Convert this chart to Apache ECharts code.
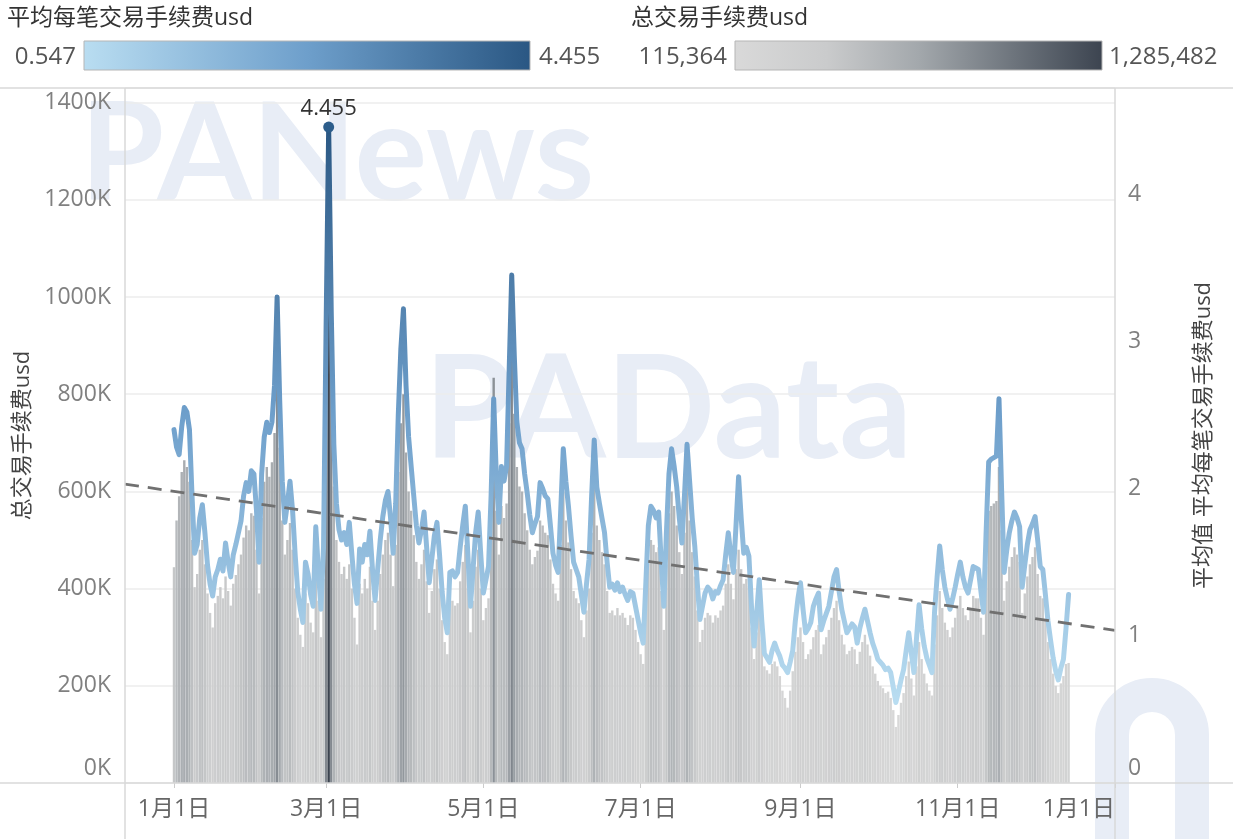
<!DOCTYPE html>
<html>
<head>
<meta charset="utf-8">
<script src="https://cdn.jsdelivr.net/npm/echarts@6/dist/echarts.min.js"></script>
<style>
    html, body { margin: 0; padding: 0; background: #fff; }
    #main { width: 1233px; height: 839px; }
</style>
</head>
<body>
<div id="main"></div>
<script>
var FONT = "'Open Sans', 'Noto Sans CJK SC', sans-serif";

// x轴两端日期，数据从 1月1日 开始按天排列
var axisStart = '2021-12-13';
var axisEnd = '2023-01-01';
var dataStart = '2022-01-01';

// 平均每笔交易手续费usd（每日）
var avgFee = [
    2.40, 2.28, 2.23, 2.42, 2.55, 2.52, 2.40, 1.95, 1.56, 1.62,
    1.80, 1.89, 1.70, 1.48, 1.35, 1.27, 1.40, 1.45, 1.52, 1.44,
    1.63, 1.50, 1.40, 1.55, 1.62, 1.70, 1.78, 1.95, 2.04, 1.98,
    2.12, 2.10, 1.85, 1.50, 2.10, 2.35, 2.45, 2.38, 2.45, 2.70,
    3.30, 2.60, 2.05, 1.77, 1.90, 2.05, 1.85, 1.55, 1.30, 1.18,
    1.09, 1.50, 1.42, 1.28, 1.20, 1.74, 1.45, 1.18, 1.60, 3.10,
    4.455, 3.20, 2.30, 1.90, 1.72, 1.65, 1.70, 1.62, 1.77, 1.55,
    1.35, 1.22, 1.59, 1.50, 1.62, 1.55, 1.71, 1.45, 1.24, 1.45,
    1.65, 1.81, 1.92, 1.98, 1.80, 1.56, 1.90, 2.50, 2.95, 3.22,
    2.70, 2.35, 2.15, 1.95, 1.75, 1.63, 1.72, 1.84, 1.60, 1.36,
    1.52, 1.68, 1.77, 1.55, 1.30, 1.12, 1.02, 1.43, 1.44, 1.40,
    1.43, 1.60, 1.75, 1.88, 1.55, 1.20, 1.45, 1.70, 1.84, 1.55,
    1.29, 1.38, 1.47, 1.95, 2.61, 2.10, 1.77, 2.15, 2.05, 2.15,
    2.80, 3.45, 2.90, 2.45, 2.31, 2.27, 2.10, 1.97, 1.82, 1.70,
    1.76, 1.81, 2.04, 2.00, 1.95, 1.93, 1.75, 1.56, 1.48, 1.43,
    1.85, 2.27, 2.05, 1.88, 1.68, 1.50, 1.45, 1.40, 1.28, 1.16,
    1.35, 1.52, 1.95, 2.33, 2.01, 1.90, 1.80, 1.70, 1.50, 1.33,
    1.35, 1.31, 1.36, 1.30, 1.33, 1.28, 1.24, 1.30, 1.29, 1.20,
    1.11, 1.02, 0.95, 1.35, 1.75, 1.88, 1.85, 1.80, 1.84, 1.50,
    1.20, 1.70, 2.10, 2.27, 2.15, 2.01, 1.80, 1.63, 1.95, 2.30,
    2.05, 1.80, 1.61, 1.35, 1.11, 1.20, 1.29, 1.33, 1.31, 1.25,
    1.30, 1.29, 1.34, 1.38, 1.55, 1.70, 1.55, 1.43, 1.75, 2.08,
    1.80, 1.56, 1.60, 1.54, 1.20, 0.93, 1.15, 1.38, 1.10, 0.88,
    0.85, 0.82, 0.90, 0.95, 0.90, 0.86, 0.80, 0.78, 0.75, 0.82,
    0.90, 1.10, 1.25, 1.36, 1.18, 1.02, 1.05, 1.09, 1.20, 1.25,
    1.29, 1.04, 1.10, 1.15, 1.20, 1.30, 1.40, 1.45, 1.30, 1.18,
    1.10, 1.02, 1.05, 1.08, 1.06, 0.95, 1.05, 1.12, 1.18, 1.10,
    1.02, 0.95, 0.90, 0.84, 0.82, 0.80, 0.77, 0.78, 0.75, 0.65,
    0.547, 0.62, 0.70, 0.77, 0.90, 1.02, 0.88, 0.75, 0.98, 1.21,
    1.05, 0.93, 0.85, 0.80, 0.75, 1.16, 1.40, 1.61, 1.45, 1.33,
    1.25, 1.18, 1.25, 1.33, 1.42, 1.50, 1.40, 1.33, 1.29, 1.38,
    1.47, 1.46, 1.45, 1.30, 1.16, 1.70, 2.18, 2.20, 2.21, 2.22,
    2.61, 2.00, 1.43, 1.58, 1.70, 1.78, 1.84, 1.80, 1.74, 1.33,
    1.48, 1.62, 1.72, 1.76, 1.81, 1.65, 1.47, 1.45, 1.28, 1.10,
    0.97, 0.85, 0.76, 0.70, 0.78, 0.84, 1.05, 1.28
];

// 总交易手续费usd（每日，单位 K）
var totalFeeK = [
    444, 540, 590, 640, 664, 650, 620, 500, 403, 430,
    480, 500, 450, 390, 350, 320, 370, 385, 403, 380,
    425, 395, 365, 410, 428, 450, 470, 505, 530, 520,
    555, 550, 480, 390, 545, 620, 650, 630, 660, 720,
    860, 690, 540, 470, 500, 535, 480, 400, 340, 305,
    280, 390, 370, 330, 310, 455, 375, 300, 420, 880,
    1285.482, 880, 610, 500, 455, 430, 445, 420, 450, 400,
    340, 285, 410, 390, 420, 400, 445, 375, 315, 375,
    430, 470, 500, 515, 470, 405, 490, 640, 740, 800,
    680, 600, 560, 510, 455, 420, 450, 480, 415, 350,
    395, 440, 460, 400, 335, 290, 265, 370, 375, 365,
    370, 415, 455, 490, 400, 310, 375, 445, 480, 400,
    335, 360, 380, 560, 834, 560, 470, 570, 545, 575,
    740, 900, 760, 650, 610, 600, 555, 520, 480, 450,
    465, 478, 540, 530, 515, 510, 460, 410, 390, 375,
    490, 600, 540, 495, 440, 395, 380, 370, 335, 300,
    355, 400, 515, 615, 530, 500, 475, 450, 395, 350,
    355, 345, 360, 345, 350, 340, 325, 345, 340, 315,
    290, 265, 245, 355, 460, 500, 490, 475, 485, 395,
    315, 450, 555, 600, 570, 530, 475, 430, 515, 610,
    540, 475, 425, 355, 290, 315, 340, 350, 345, 330,
    345, 340, 355, 365, 410, 450, 410, 378, 440, 480,
    440, 410, 420, 405, 320, 255, 310, 365, 295, 240,
    232, 225, 245, 250, 240, 220, 190, 175, 155, 190,
    230, 270, 300, 320, 290, 255, 265, 275, 300, 315,
    325, 265, 285, 300, 315, 340, 360, 375, 335, 305,
    285, 265, 272, 280, 275, 245, 270, 290, 305, 285,
    262, 240, 225, 210, 200, 195, 185, 188, 175, 150,
    115.364, 140, 165, 185, 220, 250, 215, 180, 240, 290,
    255, 225, 205, 190, 180, 285, 345, 395, 360, 330,
    315, 300, 320, 340, 365, 385, 360, 345, 335, 360,
    385, 380, 380, 340, 305, 445, 560, 570, 575, 580,
    650, 520, 375, 415, 445, 465, 485, 470, 455, 350,
    390, 425, 450, 465, 485, 430, 385, 380, 335, 290,
    255, 225, 200, 185, 205, 220, 245, 247
];

// 趋势线两端（K），分别在 x 轴最左与最右
var trendEnds = [615, 314];

// 图例色阶范围
var avgFeeRange = [0.547, 4.455];
var totalFeeRange = [115.364, 1285.482];
var avgFeeColors = ['#b9ddf1', '#6e9fcb', '#2a5783'];
var totalFeeColors = ['#d9d9d9', '#cacbcc', '#a3a8ac', '#6f767e', '#3c4450'];

function pad(n) {
    return n < 10 ? '0' + n : '' + n;
}

function dayList(from, to) {
    var out = [];
    var t = Date.UTC(+from.slice(0, 4), +from.slice(5, 7) - 1, +from.slice(8, 10));
    var end = Date.UTC(+to.slice(0, 4), +to.slice(5, 7) - 1, +to.slice(8, 10));
    while (t <= end) {
        var d = new Date(t);
        out.push(d.getUTCFullYear() + '-' + pad(d.getUTCMonth() + 1) + '-' + pad(d.getUTCDate()));
        t += 86400000;
    }
    return out;
}

function isLabelDay(val) {
    return +val.slice(8, 10) === 1 && (+val.slice(5, 7)) % 2 === 1;
}

function gradientStops(colors) {
    return colors.map(function (c, i) {
        return {offset: i / (colors.length - 1), color: c};
    });
}

var days = dayList(axisStart, axisEnd);
var offset = days.indexOf(dataStart);

var barData = totalFeeK.map(function (v, i) {
    return [days[offset + i], v];
});
var lineData = avgFee.map(function (v, i) {
    return [days[offset + i], v];
});
var trendData = [[axisStart, trendEnds[0]], [axisEnd, trendEnds[1]]];

var myChart = echarts.init(document.getElementById('main'));

var frameColor = '#d8d8d8';
var markColor = '#e8edf6';
var option = {
    animation: false,
    backgroundColor: '#fff',
    textStyle: {fontFamily: FONT},
    grid: {left: 125, right: 118, top: 88, bottom: 56},
    visualMap: [{
        type: 'continuous',
        show: false,
        seriesIndex: 0,
        dimension: 1,
        min: totalFeeRange[0],
        max: totalFeeRange[1],
        inRange: {color: totalFeeColors}
    }, {
        type: 'continuous',
        show: false,
        seriesIndex: 1,
        dimension: 1,
        min: avgFeeRange[0],
        max: avgFeeRange[1],
        inRange: {color: avgFeeColors}
    }],
    xAxis: {
        type: 'category',
        data: days,
        boundaryGap: false,
        axisLine: {show: false},
        axisTick: {
            show: true,
            interval: function (idx, val) { return isLabelDay(val); },
            length: 5,
            lineStyle: {color: '#cccccc'}
        },
        axisLabel: {
            interval: function (idx, val) { return isLabelDay(val); },
            formatter: function (val) {
                return (+val.slice(5, 7)) + '月' + (+val.slice(8, 10)) + '日';
            },
            alignMaxLabel: 'right',
            margin: 15,
            fontSize: 23,
            color: '#666',
            fontFamily: FONT
        },
        splitLine: {show: false}
    },
    yAxis: [{
        type: 'value',
        min: 0,
        max: 1430,
        interval: 200,
        name: '总交易手续费usd',
        nameLocation: 'middle',
        nameRotate: 90,
        nameGap: 73,
        nameTextStyle: {fontSize: 22, color: '#444', fontFamily: FONT},
        axisLine: {show: false},
        axisTick: {show: false},
        axisLabel: {
            showMaxLabel: false,
            margin: 14,
            fontSize: 23,
            color: '#808080',
            fontFamily: FONT,
            formatter: function (v) {
                return v === 0 ? '{base|0K}' : v + 'K';
            },
            rich: {base: {fontSize: 23, color: '#808080', fontFamily: FONT, padding: [0, 0, 30, 0]}}
        },
        splitLine: {lineStyle: {color: '#ececec', width: 1.5}}
    }, {
        type: 'value',
        position: 'right',
        min: 0,
        max: 4.72,
        interval: 1,
        name: '平均值 平均每笔交易手续费usd',
        nameLocation: 'middle',
        nameRotate: 90,
        nameGap: 78,
        nameTextStyle: {fontSize: 22, color: '#444', fontFamily: FONT},
        axisLine: {show: false},
        axisTick: {show: false},
        axisLabel: {
            showMaxLabel: false,
            margin: 13,
            fontSize: 23,
            color: '#808080',
            fontFamily: FONT,
            formatter: function (v) {
                return v === 0 ? '{base|0}' : '' + v;
            },
            rich: {base: {fontSize: 23, color: '#808080', fontFamily: FONT, padding: [0, 0, 30, 0]}}
        },
        splitLine: {show: false}
    }],
    graphic: [
        // 水印
        {
            type: 'text', z: -10, silent: true, x: 80, y: 156,
            style: {text: 'PANews', font: 'bold 136px Lato', fill: markColor, textVerticalAlign: 'middle'}
        },
        {
            type: 'text', z: -10, silent: true, x: 424, y: 412,
            style: {text: 'PAData', font: 'bold 144px Lato', fill: markColor, textVerticalAlign: 'middle'}
        },
        {
            type: 'arc', z: -10, silent: true,
            shape: {cx: 1152, cy: 735, r: 40, startAngle: Math.PI, endAngle: Math.PI * 2, clockwise: true},
            style: {stroke: markColor, lineWidth: 34, fill: 'none'}
        },
        {type: 'line', z: -10, silent: true, shape: {x1: 1112, y1: 735, x2: 1112, y2: 839}, style: {stroke: markColor, lineWidth: 34}},
        {type: 'line', z: -10, silent: true, shape: {x1: 1192, y1: 735, x2: 1192, y2: 839}, style: {stroke: markColor, lineWidth: 34}},
        // 边框
        {type: 'line', z: 50, silent: true, shape: {x1: 0, y1: 88, x2: 1233, y2: 88}, style: {stroke: frameColor, lineWidth: 1.5}},
        {type: 'line', z: 50, silent: true, shape: {x1: 0, y1: 783, x2: 1233, y2: 783}, style: {stroke: frameColor, lineWidth: 1.5}},
        {type: 'line', z: 50, silent: true, shape: {x1: 125, y1: 88, x2: 125, y2: 839}, style: {stroke: frameColor, lineWidth: 1.5}},
        {type: 'line', z: 50, silent: true, shape: {x1: 1115, y1: 88, x2: 1115, y2: 839}, style: {stroke: frameColor, lineWidth: 1.5}},
        // 图例：平均每笔交易手续费usd
        {
            type: 'text', x: 7, y: 18,
            style: {text: '平均每笔交易手续费usd', font: '23px ' + FONT, fill: '#333', textVerticalAlign: 'middle'}
        },
        {
            type: 'rect', shape: {x: 84, y: 41, width: 446, height: 29},
            style: {fill: new echarts.graphic.LinearGradient(0, 0, 1, 0, gradientStops(avgFeeColors)), stroke: '#b5b5b5', lineWidth: 1}
        },
        {
            type: 'text', x: 76, y: 57,
            style: {text: avgFeeRange[0].toFixed(3), font: '24px ' + FONT, fill: '#555', textAlign: 'right', textVerticalAlign: 'middle'}
        },
        {
            type: 'text', x: 539, y: 57,
            style: {text: avgFeeRange[1].toFixed(3), font: '24px ' + FONT, fill: '#555', textVerticalAlign: 'middle'}
        },
        // 图例：总交易手续费usd
        {
            type: 'text', x: 631, y: 18,
            style: {text: '总交易手续费usd', font: '23px ' + FONT, fill: '#333', textVerticalAlign: 'middle'}
        },
        {
            type: 'rect', shape: {x: 735, y: 41, width: 367, height: 29},
            style: {fill: new echarts.graphic.LinearGradient(0, 0, 1, 0, gradientStops(totalFeeColors)), stroke: '#b5b5b5', lineWidth: 1}
        },
        {
            type: 'text', x: 727, y: 57,
            style: {text: Math.round(totalFeeRange[0] * 1000).toLocaleString('en-US'), font: '24px ' + FONT, fill: '#555', textAlign: 'right', textVerticalAlign: 'middle'}
        },
        {
            type: 'text', x: 1109, y: 57,
            style: {text: Math.round(totalFeeRange[1] * 1000).toLocaleString('en-US'), font: '24px ' + FONT, fill: '#555', textVerticalAlign: 'middle'}
        }
    ],
    series: [{
        name: '总交易手续费usd',
        type: 'bar',
        yAxisIndex: 0,
        barWidth: 2.4,
        data: barData,
        z: 2
    }, {
        name: '平均每笔交易手续费usd',
        type: 'line',
        yAxisIndex: 1,
        symbol: 'none',
        data: lineData,
        lineStyle: {width: 5, join: 'round', cap: 'round'},
        markPoint: {
            symbol: 'circle',
            symbolSize: 11,
            itemStyle: {color: '#2c5d8b'},
            label: {show: true, position: 'top', distance: 2, formatter: '{c}', color: '#333', fontSize: 22, fontFamily: FONT},
            data: [{type: 'max'}]
        },
        z: 3
    }, {
        name: '趋势线',
        type: 'line',
        yAxisIndex: 0,
        symbol: 'none',
        data: trendData,
        lineStyle: {color: '#707070', width: 2.8, type: [14, 9]},
        z: 4
    }]
};

myChart.setOption(option);
</script>
</body>
</html>
